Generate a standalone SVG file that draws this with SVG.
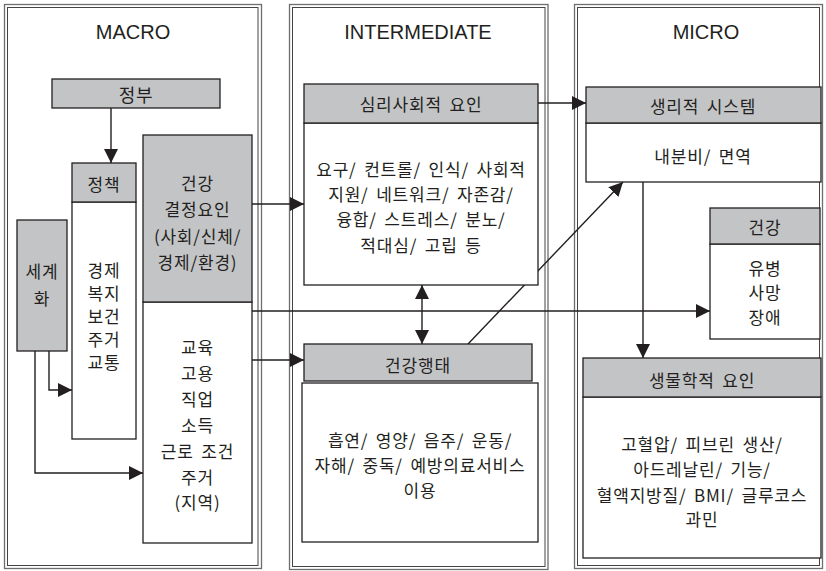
<svg xmlns="http://www.w3.org/2000/svg" width="826" height="571" viewBox="0 0 826 571">
<defs>
<style>
.po{fill:none;stroke:#6e6e6e;stroke-width:1.3}
.pi{fill:none;stroke:#444;stroke-width:1}
.g{fill:#c3c4c6;stroke:#231f20;stroke-width:1.3}
.w{fill:#fff;stroke:#231f20;stroke-width:1.3}
.t{font-family:"Noto Sans CJK KR","Liberation Sans",sans-serif;font-size:17px;letter-spacing:0.8px;word-spacing:3px;fill:#231f20;text-anchor:middle;dominant-baseline:central}
.h{font-family:"Liberation Sans",Arial,sans-serif;font-size:20px;fill:#231f20;text-anchor:middle}
.c{fill:none;stroke:#231f20;stroke-width:1.4}
</style>
<marker id="ah" viewBox="0 0 14 14" refX="14" refY="7" markerWidth="14" markerHeight="14" markerUnits="userSpaceOnUse" orient="auto-start-reverse">
<path d="M0,0 L14,7 L0,14 z" fill="#231f20"/>
</marker>
</defs>
<rect width="826" height="571" fill="#fff"/>

<g id="panel-macro">
<rect class="po" x="4.5" y="4.5" width="257" height="564"/>
<rect class="pi" x="7.5" y="7.5" width="250.5" height="558"/>
<text class="h" x="133" y="39">MACRO</text>
</g>
<g id="panel-intermediate">
<rect class="po" x="289.5" y="4.5" width="258.5" height="565"/>
<rect class="pi" x="292.5" y="7.5" width="252.5" height="559"/>
<text class="h" x="418" y="39">INTERMEDIATE</text>
</g>
<g id="panel-micro">
<rect class="po" x="574.5" y="4.5" width="248" height="564"/>
<rect class="pi" x="577.5" y="7.5" width="242" height="558"/>
<text class="h" x="706" y="39">MICRO</text>
</g>

<g id="connectors">
<line class="c" x1="111" y1="108" x2="111" y2="163" marker-end="url(#ah)"/>
<polyline class="c" points="49,351 49,390 72,390" marker-end="url(#ah)"/>
<polyline class="c" points="35,351 35,473 143,473" marker-end="url(#ah)"/>
<line class="c" x1="252" y1="204" x2="304" y2="204" marker-end="url(#ah)"/>
<line class="c" x1="252" y1="311" x2="710" y2="311" marker-end="url(#ah)"/>
<line class="c" x1="252" y1="360" x2="304" y2="360" marker-end="url(#ah)"/>
<line class="c" x1="538" y1="103" x2="586" y2="103" marker-end="url(#ah)"/>
<line class="c" x1="422" y1="285" x2="422" y2="344" marker-start="url(#ah)" marker-end="url(#ah)"/>
<line class="c" x1="468" y1="344" x2="623" y2="182" marker-end="url(#ah)"/>
<line class="c" x1="643" y1="182" x2="643" y2="358" marker-end="url(#ah)"/>
</g>

<g id="node-jeongbu">
<rect class="g" x="52" y="79" width="168" height="29"/>
<text class="t" x="136" y="94" style="font-size:18px">정부</text>
</g>

<g id="node-policy">
<rect class="w" x="72" y="202" width="64" height="237"/>
<rect class="g" x="72" y="163" width="64" height="39"/>
<text class="t" x="104" y="183">정책</text>
<text class="t" x="104" y="269">경제</text>
<text class="t" x="104" y="292">복지</text>
<text class="t" x="104" y="315">보건</text>
<text class="t" x="104" y="338">주거</text>
<text class="t" x="104" y="361">교통</text>
</g>

<g id="node-globalization">
<rect class="g" x="17" y="220" width="50" height="131"/>
<text class="t" x="42" y="270">세계</text>
<text class="t" x="42" y="297">화</text>
</g>

<g id="node-determinants">
<rect class="w" x="143" y="302" width="109" height="241"/>
<rect class="g" x="143" y="135" width="109" height="167"/>
<text class="t" x="197.5" y="182">건강</text>
<text class="t" x="197.5" y="208">결정요인</text>
<text class="t" x="197.5" y="235">(사회/신체/</text>
<text class="t" x="197.5" y="261">경제/환경)</text>
<text class="t" x="197.5" y="346">교육</text>
<text class="t" x="197.5" y="372">고용</text>
<text class="t" x="197.5" y="398">직업</text>
<text class="t" x="197.5" y="424">소득</text>
<text class="t" x="197.5" y="450">근로 조건</text>
<text class="t" x="197.5" y="476">주거</text>
<text class="t" x="197.5" y="501">(지역)</text>
</g>

<g id="node-psychosocial">
<rect class="w" x="304" y="123" width="234" height="162"/>
<rect class="g" x="304" y="84" width="234" height="39"/>
<text class="t" x="421" y="103">심리사회적 요인</text>
<text class="t" x="421" y="168">요구/ 컨트롤/ 인식/ 사회적</text>
<text class="t" x="421" y="193">지원/ 네트워크/ 자존감/</text>
<text class="t" x="421" y="218">융합/ 스트레스/ 분노/</text>
<text class="t" x="421" y="244">적대심/ 고립 등</text>
</g>

<g id="node-behavior">
<rect class="w" x="302" y="383" width="236" height="159"/>
<rect class="g" x="304" y="344" width="228" height="37"/>
<text class="t" x="418" y="364">건강행태</text>
<text class="t" x="420" y="439">흡연/ 영양/ 음주/ 운동/</text>
<text class="t" x="420" y="464">자해/ 중독/ 예방의료서비스</text>
<text class="t" x="420" y="489">이용</text>
</g>

<g id="node-physiological">
<rect class="w" x="586" y="123" width="235" height="59"/>
<rect class="g" x="586" y="87" width="235" height="36"/>
<text class="t" x="703" y="105">생리적 시스템</text>
<text class="t" x="703" y="155">내분비/ 면역</text>
</g>

<g id="node-health">
<rect class="w" x="710" y="244" width="110" height="95"/>
<rect class="g" x="710" y="208" width="110" height="36"/>
<text class="t" x="765" y="226">건강</text>
<text class="t" x="765" y="267">유병</text>
<text class="t" x="765" y="291">사망</text>
<text class="t" x="765" y="316">장애</text>
</g>

<g id="node-biological">
<rect class="w" x="583" y="397" width="238" height="161"/>
<rect class="g" x="583" y="358" width="238" height="39"/>
<text class="t" x="702" y="379">생물학적 요인</text>
<text class="t" x="702" y="443">고혈압/ 피브린 생산/</text>
<text class="t" x="702" y="468">아드레날린/ 기능/</text>
<text class="t" x="702" y="494">혈액지방질/ BMI/ 글루코스</text>
<text class="t" x="702" y="518">과민</text>
</g>
</svg>
